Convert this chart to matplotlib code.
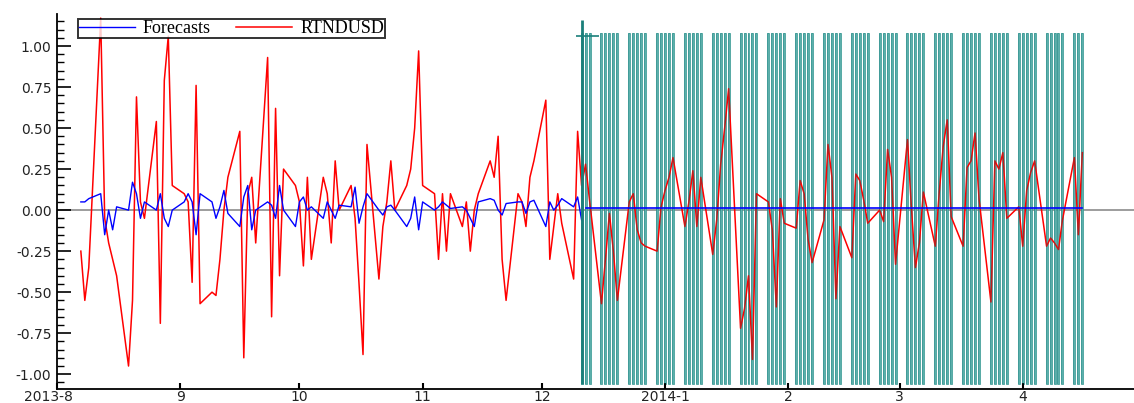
import numpy as np
import pandas as pd
import matplotlib
matplotlib.use("Agg")
import matplotlib.pyplot as plt
import matplotlib.dates as mdates
import matplotlib.transforms as mtransforms
from matplotlib.ticker import FuncFormatter, MultipleLocator

# Daily (business-day) returns and model forecasts, 2013-08-07 .. 2014-04-16
START = "2013-08-07"
END = "2014-04-16"
BAND_START = "2013-12-11"

rtn_aug = [-0.25, -0.55, -0.35, 1.17, -0.05, -0.2, -0.3, -0.4, -0.95, -0.55,
           0.69, 0.05, -0.05, 0.54, -0.69, 0.79, 1.06, 0.15]
rtn_sep = [0.1, 0.05, -0.44, 0.76, -0.57, -0.5, -0.52, -0.3, 0.0, 0.2,
           0.48, -0.9, 0.1, 0.2, -0.2, 0.93, -0.65, 0.62, -0.4, 0.25, 0.15]
rtn_oct = [0.05, -0.34, 0.2, -0.3, 0.2, 0.1, -0.2, 0.3, 0.0, 0.15, -0.05,
           -0.45, -0.88, 0.4, -0.42, -0.1, 0.05, 0.3, 0.0, 0.15, 0.25, 0.5, 0.97]
rtn_nov = [0.15, 0.1, -0.3, 0.1, -0.25, 0.1, -0.1, 0.05, -0.25, 0.0, 0.1,
           0.3, 0.2, 0.45, -0.3, -0.55, 0.1, 0.05, -0.1, 0.2, 0.3]
rtn_dec = [0.67, -0.3, -0.1, 0.1, -0.08, -0.42, 0.48, 0.15,
           0.28, 0.06, -0.57, -0.3, -0.02, -0.25, -0.55, 0.05, 0.1, -0.12,
           -0.2, -0.22, -0.25, 0.02]
rtn_jan = [0.12, 0.2, 0.32, -0.1, 0.05, 0.24, -0.1, 0.2, -0.27, -0.06, 0.28,
           0.5, 0.74, -0.72, -0.6, -0.4, -0.91, 0.1, 0.05, -0.12, -0.59, 0.07, -0.08]
rtn_feb = [-0.11, 0.18, 0.1, -0.18, -0.32, -0.06, 0.4, 0.2, -0.54, -0.1,
           -0.29, 0.22, 0.18, 0.06, -0.08, 0.0, -0.07, 0.37, 0.2, -0.33]
rtn_mar = [0.43, 0.01, -0.35, -0.2, 0.11, -0.22, 0.11, 0.39, 0.55, -0.04,
           -0.22, 0.26, 0.3, 0.47, 0.07, -0.56, 0.3, 0.25, 0.35, -0.05, 0.02]
rtn_apr = [-0.22, 0.12, 0.23, 0.3, -0.22, -0.17, -0.2, -0.24, -0.06, 0.32, -0.15, 0.35]

fc_aug = [0.05, 0.05, 0.07, 0.1, -0.15, 0.0, -0.12, 0.02, 0.0, 0.17, 0.1,
          -0.05, 0.05, 0.0, 0.1, -0.05, -0.1, 0.0]
fc_sep = [0.05, 0.1, 0.05, -0.15, 0.1, 0.05, -0.05, 0.02, 0.12, -0.02, -0.1,
          0.08, 0.15, -0.12, 0.0, 0.05, 0.03, -0.05, 0.15, 0.0, -0.1]
fc_oct = [0.05, 0.08, 0.0, 0.02, -0.05, 0.05, 0.0, -0.05, 0.03, 0.02, 0.14,
          -0.08, 0.02, 0.1, 0.0, -0.03, 0.02, 0.03, 0.0, -0.1, -0.05, 0.08, -0.12]
fc_nov = [0.05, 0.0, 0.02, 0.05, 0.03, 0.01, 0.02, 0.0, -0.05, -0.1, 0.05,
          0.07, 0.06, 0.0, -0.03, 0.04, 0.05, 0.05, -0.02, 0.05, 0.06]
fc_dec = [-0.1, 0.05, 0.0, 0.03, 0.07, 0.02, 0.08, -0.06]
FC_LEVEL = 0.012          # out-of-sample forecast (flat)
BAND_HI, BAND_LO = 1.08, -1.06

rtndusd = rtn_aug + rtn_sep + rtn_oct + rtn_nov + rtn_dec + rtn_jan + rtn_feb + rtn_mar + rtn_apr
fc_hist = fc_aug + fc_sep + fc_oct + fc_nov + fc_dec

dates = pd.bdate_range(START, END)
hist_dates = dates[:len(fc_hist)]
out_dates = dates[len(fc_hist):]
band_dates = dates[dates >= BAND_START]

fig = plt.figure(figsize=(11.34, 4.03), dpi=100)
ax = fig.add_axes([57 / 1134, 14 / 403, 1 - 57 / 1134, 375 / 403])

ax.axhline(0, color="#8c8c8c", lw=1.2, zorder=1)

# forecast band: one thin bar per trading day, solid underneath the series
# and a translucent copy on top so the red line shows through darkened
ax.bar(band_dates, BAND_HI - BAND_LO, bottom=BAND_LO, width=0.5,
       color="#7cc4be", edgecolor="#2e948e", linewidth=0.5, zorder=1.5)
ax.plot(dates, rtndusd, color="red", lw=1.1, zorder=2, label="RTNDUSD")
ax.plot(hist_dates, fc_hist, color="blue", lw=1.0, zorder=3, label="Forecasts")
ax.bar(band_dates, BAND_HI - BAND_LO, bottom=BAND_LO, width=0.5,
       color=(0.0, 0.45, 0.45, 0.25), linewidth=0, zorder=4)
ax.plot(out_dates, [FC_LEVEL] * len(out_dates), color="blue", lw=1.2, zorder=5)

first = band_dates[0]
ax.vlines(first, BAND_LO, 1.16, color="#1a7f7a", lw=2, zorder=4)
ax.hlines(1.06, first - pd.Timedelta(days=1.5), first + pd.Timedelta(days=4.5),
          color="#1a7f7a", lw=1.2, zorder=4)

ax.set_xlim(pd.Timestamp("2013-08-01"), pd.Timestamp("2014-04-29"))
ax.set_ylim(-1.09, 1.195)

ax.yaxis.set_major_locator(MultipleLocator(0.25))
ax.yaxis.set_minor_locator(MultipleLocator(0.05))
ax.yaxis.set_major_formatter(FuncFormatter(lambda v, p: f"{v:.2f}" if abs(v) <= 1.001 else ""))


def month_label(x, pos):
    d = mdates.num2date(x)
    if pos == 0 or d.month == 1:
        return f"{d.year}-{d.month}"
    return f"{d.month}"


ax.xaxis.set_major_locator(mdates.MonthLocator())
ax.xaxis.set_major_formatter(FuncFormatter(month_label))

for side in ["top", "right"]:
    ax.spines[side].set_visible(False)
ax.spines["left"].set_linewidth(1.3)
ax.spines["bottom"].set_linewidth(1.3)
ax.tick_params(axis="y", which="major", direction="in", length=10, width=1.2,
               labelsize=10, labelcolor="#222222", pad=4)
ax.tick_params(axis="y", which="minor", direction="in", length=5, width=1.0)
ax.tick_params(axis="x", which="major", direction="in", length=4, width=1.5,
               labelsize=10, labelcolor="#222222", pad=0.5)

# nudge the first (year) label a little to the left of the axis corner
first_tick = ax.xaxis.get_major_ticks()[0]
shift = mtransforms.ScaledTranslation(-9 / 100, 0, fig.dpi_scale_trans)
first_tick.label1.set_transform(first_tick.label1.get_transform() + shift)

handles, labels = ax.get_legend_handles_labels()
leg = ax.legend(handles[::-1], labels[::-1], ncol=2, loc="upper left",
                bbox_to_anchor=(78 / 1134, 1 - 19 / 403), bbox_transform=fig.transFigure,
                prop={"family": "Liberation Serif", "size": 13},
                frameon=True, fancybox=False, borderpad=0.05, borderaxespad=0,
                handlelength=3.1, handletextpad=0.45, columnspacing=1.4)
leg.get_frame().set_edgecolor("black")
leg.get_frame().set_linewidth(1.4)
leg.set_zorder(10)

fig.savefig("out.png", dpi=100)
